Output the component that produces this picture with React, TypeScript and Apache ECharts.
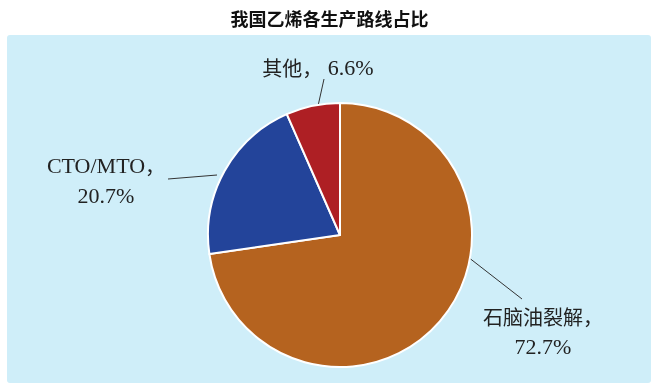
import React, { useEffect, useRef } from "react";
import * as echarts from "echarts";

const title = "我国乙烯各生产路线占比";
const categories = ["石脑油裂解", "CTO/MTO", "其他"];
const values = [72.7, 20.7, 6.6];
const labelTexts = [
  "{zh|石脑油裂解，}\n{en|72.7%}",
  "{en|CTO/MTO}{zh|，}\n{en|20.7%}",
  "{zh|其他，}{en| 6.6%}",
];
const colors = ["#B5631F", "#23449A", "#AE1F24"];

export default function App() {
  const ref = useRef<HTMLDivElement>(null);
  useEffect(() => {
    const chart = echarts.init(ref.current!, null, { renderer: "svg" });
    const labelPos = [
      { x: 543, y: 331, line: [[468, 257], [522, 299]] },
      { x: 106, y: 180, line: [[217, 175], [168, 179]] },
      { x: 318, y: 67, line: [[318, 106], [324, 79]] },
    ];
    chart.setOption({
      animation: false,
      title: {
        text: title,
        left: "center",
        top: 4,
        textStyle: { fontSize: 18, fontWeight: "bold", color: "#111", fontFamily: "Noto Sans CJK SC" },
      },
      graphic: [
        {
          type: "rect",
          shape: { x: 7, y: 35, width: 644, height: 348, r: 3 },
          style: { fill: "#CFEEF9" },
          z: -10,
        },
      ],
      series: [
        {
          type: "pie",
          center: [340, 235],
          radius: [0, 132],
          startAngle: 90,
          clockwise: true,
          itemStyle: { borderColor: "#ffffff", borderWidth: 2 },
          data: categories.map((c, i) => ({
            name: c,
            value: values[i],
            itemStyle: { color: colors[i] },
            label: { formatter: labelTexts[i] },
          })),
          label: {
            show: true,
            position: "outside",
            color: "#222",
            lineHeight: 30,
            align: "center",
            rich: {
              zh: { fontSize: 20, lineHeight: 30, color: "#222", fontFamily: "Noto Sans CJK SC" },
              en: { fontSize: 22, lineHeight: 30, color: "#222", fontFamily: "Liberation Serif" },
            },
          },
          labelLine: { show: true, lineStyle: { color: "#333", width: 1 } },
          labelLayout: (p: any) => {
            const lp = labelPos[p.dataIndex];
            return {
              x: lp.x,
              y: lp.y,
              align: "center",
              verticalAlign: "middle",
              labelLinePoints: lp.line,
            };
          },
        },
      ],
    });
    return () => chart.dispose();
  }, []);
  return <div ref={ref} style={{ position: "fixed", left: 0, top: 0, width: 659, height: 392 }} />;
}
